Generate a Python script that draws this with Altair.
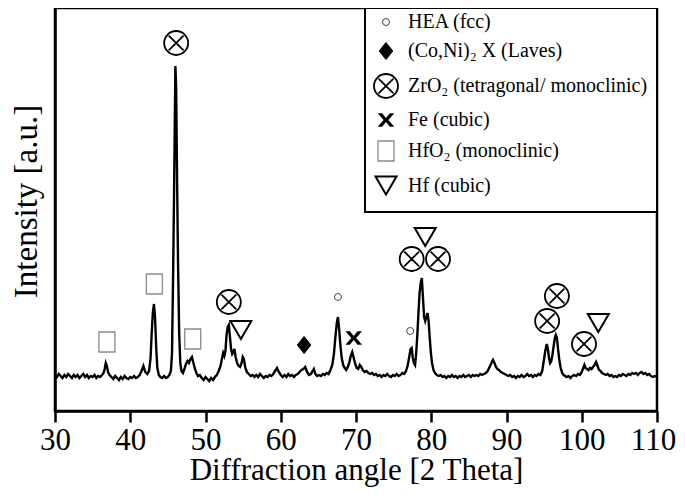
import altair as alt
import pandas as pd

# ---- XRD scan ----
two_theta = [
    30.0, 30.25, 30.5, 30.75, 31.0, 31.25, 31.5, 31.75, 32.0, 32.25, 32.5, 32.75, 33.0,
    33.25, 33.5, 33.75, 34.0, 34.25, 34.5, 34.75, 35.0, 35.25, 35.5, 35.75, 36.0, 36.25,
    36.45, 36.6, 36.75, 36.9, 37.05, 37.25, 37.5, 37.75, 38.0, 38.25, 38.5, 38.75, 39.0,
    39.25, 39.5, 39.75, 40.0, 40.25, 40.5, 40.75, 41.0, 41.25, 41.5, 41.75, 42.0, 42.25,
    42.5, 42.7, 42.85, 43.0, 43.15, 43.3, 43.45, 43.6, 43.8, 44.0, 44.25, 44.5, 44.75,
    45.0, 45.2, 45.4, 45.55, 45.7, 45.85, 46.0, 46.1, 46.2, 46.35, 46.5, 46.65, 46.8,
    47.0, 47.2, 47.4, 47.6, 47.8, 48.0, 48.2, 48.4, 48.6, 48.8, 49.0, 49.25, 49.5,
    49.75, 50.0, 50.25, 50.5, 50.75, 51.0, 51.25, 51.5, 51.75, 52.0, 52.2, 52.35, 52.5,
    52.65, 52.8, 52.95, 53.1, 53.25, 53.4, 53.55, 53.7, 53.85, 54.0, 54.2, 54.4, 54.6,
    54.8, 54.95, 55.1, 55.3, 55.5, 55.75, 56.0, 56.25, 56.5, 56.75, 57.0, 57.25, 57.5,
    57.75, 58.0, 58.25, 58.5, 58.75, 59.0, 59.25, 59.5, 59.75, 60.0, 60.25, 60.5, 60.75,
    61.0, 61.25, 61.5, 61.75, 62.0, 62.25, 62.5, 62.75, 63.0, 63.25, 63.5, 63.75, 64.0,
    64.25, 64.4, 64.6, 64.85, 65.1, 65.35, 65.6, 65.85, 66.1, 66.35, 66.6, 66.85, 67.05,
    67.25, 67.45, 67.6, 67.75, 67.9, 68.1, 68.3, 68.5, 68.7, 68.9, 69.1, 69.3, 69.5,
    69.7, 69.9, 70.1, 70.3, 70.5, 70.7, 70.9, 71.15, 71.4, 71.65, 71.9, 72.15, 72.4,
    72.65, 72.9, 73.15, 73.4, 73.65, 73.9, 74.15, 74.4, 74.65, 74.9, 75.15, 75.4, 75.65,
    75.9, 76.15, 76.4, 76.65, 76.85, 77.05, 77.25, 77.4, 77.55, 77.7, 77.85, 78.0, 78.15,
    78.3, 78.45, 78.6, 78.75, 78.9, 79.05, 79.2, 79.35, 79.5, 79.65, 79.8, 79.95, 80.1,
    80.3, 80.5, 80.75, 81.0, 81.25, 81.5, 81.75, 82.0, 82.25, 82.5, 82.75, 83.0, 83.25,
    83.5, 83.75, 84.0, 84.25, 84.5, 84.75, 85.0, 85.25, 85.5, 85.75, 86.0, 86.25, 86.5,
    86.75, 87.0, 87.25, 87.5, 87.75, 88.0, 88.2, 88.4, 88.6, 88.8, 89.0, 89.25, 89.5,
    89.75, 90.0, 90.25, 90.5, 90.75, 91.0, 91.25, 91.5, 91.75, 92.0, 92.25, 92.5, 92.75,
    93.0, 93.25, 93.5, 93.75, 94.0, 94.25, 94.5, 94.75, 94.95, 95.15, 95.35, 95.5, 95.65,
    95.8, 95.95, 96.1, 96.25, 96.4, 96.55, 96.7, 96.85, 97.0, 97.2, 97.4, 97.6, 97.8,
    98.0, 98.25, 98.5, 98.75, 99.0, 99.25, 99.5, 99.75, 100.0, 100.2, 100.35, 100.5, 100.7,
    100.9, 101.1, 101.3, 101.5, 101.7, 101.9, 102.1, 102.3, 102.5, 102.7, 102.95, 103.2, 103.45,
    103.7, 103.95, 104.2, 104.45, 104.7, 104.95, 105.2, 105.45, 105.7, 105.95, 106.2, 106.45, 106.7,
    106.95, 107.2, 107.45, 107.7, 107.95, 108.2, 108.45, 108.7, 108.95, 109.2, 109.45, 109.7, 110.0,
]
intensity = [
    38, 36, 39, 37, 35, 38, 36, 39, 37, 35, 38, 36, 38,
    35, 37, 39, 36, 38, 35, 37, 36, 38, 35, 37, 36, 38,
    40, 44, 50, 47, 41, 38, 36, 34, 37, 35, 33, 36, 34,
    37, 35, 34, 36, 35, 37, 35, 36, 38, 42, 47, 41, 39,
    42, 55, 80, 100, 109, 95, 65, 45, 38, 36, 35, 37, 35,
    36, 38, 42, 60, 140, 240, 347, 325, 250, 150, 80, 50, 42,
    40, 44, 49, 52, 50, 54, 56, 50, 44, 40, 37, 38, 35,
    33, 36, 34, 32, 35, 33, 36, 38, 42, 47, 55, 60, 57,
    62, 78, 86, 88, 76, 64, 59, 61, 64, 56, 50, 47, 46,
    50, 56, 54, 45, 41, 39, 37, 38, 36, 38, 36, 39, 37,
    35, 37, 36, 38, 37, 39, 42, 45, 41, 38, 36, 38, 36,
    39, 37, 38, 36, 38, 39, 41, 43, 44, 46, 41, 38, 39,
    42, 44, 39, 37, 38, 37, 39, 38, 40, 39, 43, 48, 58,
    75, 90, 96, 85, 70, 55, 48, 45, 43, 46, 50, 57, 61,
    55, 49, 45, 44, 48, 46, 43, 41, 42, 40, 39, 40, 38,
    39, 37, 38, 36, 38, 37, 39, 37, 36, 38, 37, 39, 37,
    38, 40, 39, 42, 47, 55, 64, 65, 55, 50, 48, 60, 78,
    100, 120, 130, 135, 115, 96, 92, 96, 100, 92, 75, 60, 50,
    43, 40, 38, 37, 38, 36, 37, 35, 37, 36, 38, 36, 37,
    35, 37, 36, 38, 36, 37, 38, 36, 38, 37, 38, 37, 39,
    38, 39, 40, 42, 46, 50, 53, 50, 46, 44, 43, 41, 40,
    39, 38, 37, 38, 36, 37, 35, 37, 36, 38, 36, 37, 39,
    37, 38, 36, 38, 37, 39, 38, 42, 52, 62, 69, 64, 55,
    50, 52, 58, 66, 74, 78, 75, 64, 54, 45, 40, 38, 37,
    36, 37, 35, 37, 38, 37, 39, 38, 41, 45, 48, 45, 44,
    43, 45, 44, 46, 48, 51, 47, 43, 42, 40, 39, 38, 39,
    37, 38, 36, 37, 36, 38, 37, 39, 38, 37, 39, 38, 40,
    39, 40, 38, 40, 41, 39, 40, 38, 39, 37, 36, 37, 36,
]

# ---- phases / peak markers ----
phase_labels = [
    "HEA (fcc)",
    "(Co,Ni)\u2082 X (Laves)",
    "ZrO\u2082 (tetragonal/ monoclinic)",
    "Fe (cubic)",
    "HfO\u2082 (monoclinic)",
    "Hf (cubic)",
]
marker_phase = [
    "ZrO\u2082 (tetragonal/ monoclinic)", "HfO\u2082 (monoclinic)", "HfO\u2082 (monoclinic)",
    "HfO\u2082 (monoclinic)", "ZrO\u2082 (tetragonal/ monoclinic)", "Hf (cubic)",
    "(Co,Ni)\u2082 X (Laves)", "HEA (fcc)", "Fe (cubic)", "HEA (fcc)",
    "ZrO\u2082 (tetragonal/ monoclinic)", "ZrO\u2082 (tetragonal/ monoclinic)", "Hf (cubic)",
    "ZrO\u2082 (tetragonal/ monoclinic)", "ZrO\u2082 (tetragonal/ monoclinic)",
    "ZrO\u2082 (tetragonal/ monoclinic)", "Hf (cubic)",
]
marker_theta = [46.1, 36.9, 43.2, 48.3, 53.1, 54.7, 63.1, 67.6, 69.7, 77.2,
                77.4, 80.9, 79.2, 95.4, 96.7, 100.3, 102.2]
marker_level = [370, 71, 129, 74, 111, 83, 68, 116, 75, 82,
                154, 154, 176, 92, 117, 69, 90]

x_tick_values = [30, 35, 40, 45, 50, 55, 60, 65, 70, 75, 80, 85, 90, 95, 100, 105, 110]

# symbol styles per phase (same order as phase_labels)
symbol_shapes = [
    "circle",
    "M0,-1L0.8,0L0,1L-0.8,0Z",
    "M1,0A1,1 0 1,1 -1,0A1,1 0 1,1 1,0ZM-0.62,-0.62L0.62,0.62M0.62,-0.62L-0.62,0.62",
    "M-0.9,-0.75L-0.45,-0.75L0,-0.2L0.45,-0.75L0.9,-0.75L0.25,0L0.9,0.75L0.45,0.75L0,0.2L-0.45,0.75L-0.9,0.75L-0.25,0Z",
    "M-0.8,-1L0.8,-1L0.8,1L-0.8,1Z",
    "M-1,-0.85L1,-0.85L0,0.85Z",
]
symbol_fills = ["transparent", "black", "transparent", "black", "transparent", "transparent"]
symbol_strokes = ["#444444", "black", "black", "black", "#8a8a8a", "black"]
symbol_sizes = [49, 289, 576, 300, 400, 441]
symbol_widths = [1.0, 1.0, 1.8, 0.5, 1.3, 2.0]

FONT = "Liberation Serif"

scan = pd.DataFrame({"two_theta": two_theta, "intensity": intensity})
markers = pd.DataFrame({"phase": marker_phase, "two_theta": marker_theta, "level": marker_level})
legend_box = pd.DataFrame({"box": ["legend"]})

x_scale = alt.Scale(domain=[30, 110], nice=False, zero=False)
y_scale = alt.Scale(domain=[2, 405], nice=False, zero=False)

x_axis = alt.Axis(
    values=x_tick_values,
    labelExpr="datum.value % 10 === 0 ? datum.label : ''",
    tickSize={"condition": {"test": "datum.value % 10 === 0", "value": 11}, "value": 6},
    labelOffset={"condition": {"test": "datum.value === 110", "value": -4}, "value": 0},
    labelOverlap=False,
    labelFlush=False,
    labelFontSize=31,
    labelPadding=3,
    title="Diffraction angle [2 Theta]",
    titleFontSize=31,
    titlePadding=0,
    grid=False,
)
y_axis = alt.Axis(
    labels=False,
    ticks=False,
    grid=False,
    title="Intensity [a.u.]",
    titleFontSize=33,
    titlePadding=12,
    titleY=193,
)

legend = alt.Legend(
    title=None,
    orient="none",
    legendX=318,
    legendY=4,
    padding=0,
    labelFont=FONT,
    labelFontSize=20,
    labelColor="black",
    labelLimit=400,
    labelOffset=9,
    rowPadding=8,
)

line = alt.Chart(scan).mark_line(color="black", strokeWidth=2.4).encode(
    x=alt.X("two_theta:Q", scale=x_scale, axis=x_axis),
    y=alt.Y("intensity:Q", scale=y_scale, axis=y_axis),
)

box = alt.Chart(legend_box).mark_rect(fill="white", stroke="black", strokeWidth=2).encode(
    x=alt.value(310), x2=alt.value(602), y=alt.value(0), y2=alt.value(204)
)

points = alt.Chart(markers).mark_point(opacity=1, filled=False).encode(
    x=alt.X("two_theta:Q", scale=x_scale),
    y=alt.Y("level:Q", scale=y_scale),
    shape=alt.Shape("phase:N", scale=alt.Scale(domain=phase_labels, range=symbol_shapes), legend=legend),
    fill=alt.Fill("phase:N", scale=alt.Scale(domain=phase_labels, range=symbol_fills), legend=legend),
    stroke=alt.Stroke("phase:N", scale=alt.Scale(domain=phase_labels, range=symbol_strokes), legend=legend),
    size=alt.Size("phase:N", scale=alt.Scale(type="ordinal", domain=phase_labels, range=symbol_sizes), legend=legend),
    strokeWidth=alt.StrokeWidth("phase:N", scale=alt.Scale(type="ordinal", domain=phase_labels, range=symbol_widths), legend=legend),
)

chart = (
    alt.layer(line, box, points)
    .properties(
        width=602,
        height=403,
        autosize="none",
        padding={"left": 47, "top": 0, "right": 20, "bottom": 79},
        background="white",
    )
    .configure_view(stroke="black", strokeWidth=2.5)
    .configure_axis(
        domainColor="black",
        domainWidth=2.5,
        tickColor="black",
        tickWidth=2.5,
        labelFont=FONT,
        titleFont=FONT,
        labelColor="black",
        titleColor="black",
        titleFontWeight="normal",
    )
)

chart.save("out.html", embed_options={"renderer": "svg", "actions": False})
